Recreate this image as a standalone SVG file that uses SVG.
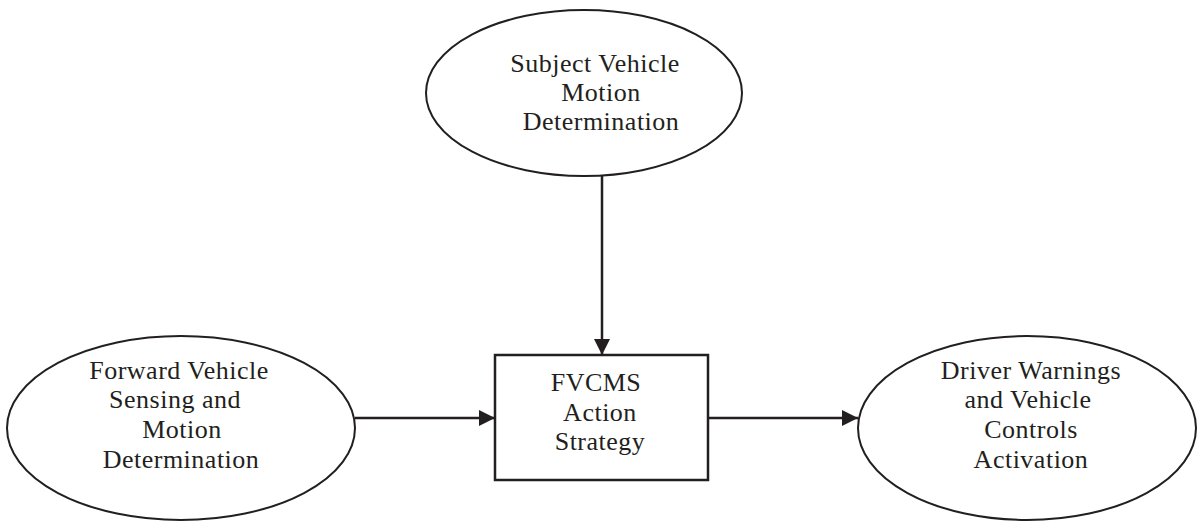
<svg xmlns="http://www.w3.org/2000/svg" width="1198" height="523" viewBox="0 0 1198 523">
<defs>
<style>
.shape{fill:#fff;stroke:#231f20;stroke-width:2}
.box{fill:#fff;stroke:#231f20;stroke-width:2.5}
.conn{stroke:#231f20;stroke-width:2.5;fill:none}
text{font-family:"Liberation Serif","DejaVu Serif",serif;font-size:26px;letter-spacing:0.5px;fill:#231f20;text-anchor:middle}
</style>
<marker id="ah" markerWidth="16" markerHeight="16" refX="16" refY="8" orient="auto" markerUnits="userSpaceOnUse">
<path d="M0,0 L16,8 L0,16 Z" fill="#231f20"/>
</marker>
</defs>
<rect width="1198" height="523" fill="#fff"/>
<g id="connectors">
<line class="conn" x1="602" y1="175" x2="602" y2="355" marker-end="url(#ah)"/>
<line class="conn" x1="355" y1="418" x2="495" y2="418" marker-end="url(#ah)"/>
<line class="conn" x1="708" y1="418" x2="858" y2="418" marker-end="url(#ah)"/>
</g>
<g id="subject">
<ellipse class="shape" cx="584" cy="93" rx="158" ry="83"/>
<text x="595" y="72">Subject Vehicle</text>
<text x="601" y="101">Motion</text>
<text x="601" y="130">Determination</text>
</g>
<g id="forward">
<ellipse class="shape" cx="181" cy="428" rx="174" ry="92"/>
<text x="179" y="379">Forward Vehicle</text>
<text x="175" y="408">Sensing and</text>
<text x="182" y="438">Motion</text>
<text x="181" y="468">Determination</text>
</g>
<g id="fvcms">
<rect class="box" x="495" y="355" width="213" height="125"/>
<text x="596" y="391">FVCMS</text>
<text x="600" y="421">Action</text>
<text x="600" y="450">Strategy</text>
</g>
<g id="driver">
<ellipse class="shape" cx="1027" cy="428" rx="169" ry="92"/>
<text x="1031" y="379">Driver Warnings</text>
<text x="1028" y="408">and Vehicle</text>
<text x="1031" y="438">Controls</text>
<text x="1031" y="468">Activation</text>
</g>
</svg>
